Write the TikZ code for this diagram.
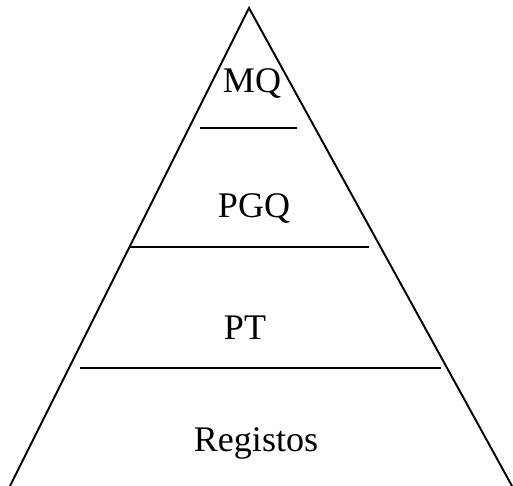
\documentclass[tikz,border=0pt]{standalone}
\usepackage{fontspec}
\setmainfont{Liberation Serif}
\usepackage{xcolor}
\definecolor{cMain}{HTML}{000000}
\usetikzlibrary{positioning,calc}
\tikzset{
  pyr-edge/.style={draw=cMain,line width=1.1pt,line join=miter},
  pyr-level/.style={draw=cMain,line width=1.1pt},
  pyr-label/.style={font=\fontsize{20.5}{24}\selectfont,text=cMain,inner sep=0pt},
}

\begin{document}
\begin{tikzpicture}[x=0.02cm,y=-0.02cm]
  \useasboundingbox (0,0) rectangle (513,486);
  % contorno da piramide
  \coordinate (top)   at (249,8);
  \coordinate (baseL) at (10,486);
  \coordinate (baseR) at (512,486);
  \draw[pyr-edge] (baseL) -- (top) -- (baseR);
  % niveis
  \coordinate (l1a) at (200,128); \coordinate (l1b) at (297,128);
  \coordinate (l2a) at (129,247); \coordinate (l2b) at (369,247);
  \coordinate (l3a) at (80,368);  \coordinate (l3b) at (441,368);
  \draw[pyr-level] (l1a) -- (l1b);
  \draw[pyr-level] (l2a) -- (l2b);
  \draw[pyr-level] (l3a) -- (l3b);
  % textos
  \node[pyr-label] (mq)  at (252,83)  {MQ};
  \node[pyr-label] (pgq) at (254,208) {PGQ};
  \node[pyr-label] (pt)  at (245,328) {PT};
  \node[pyr-label] (reg) at (256,443) {Registos};
\end{tikzpicture}
\end{document}
